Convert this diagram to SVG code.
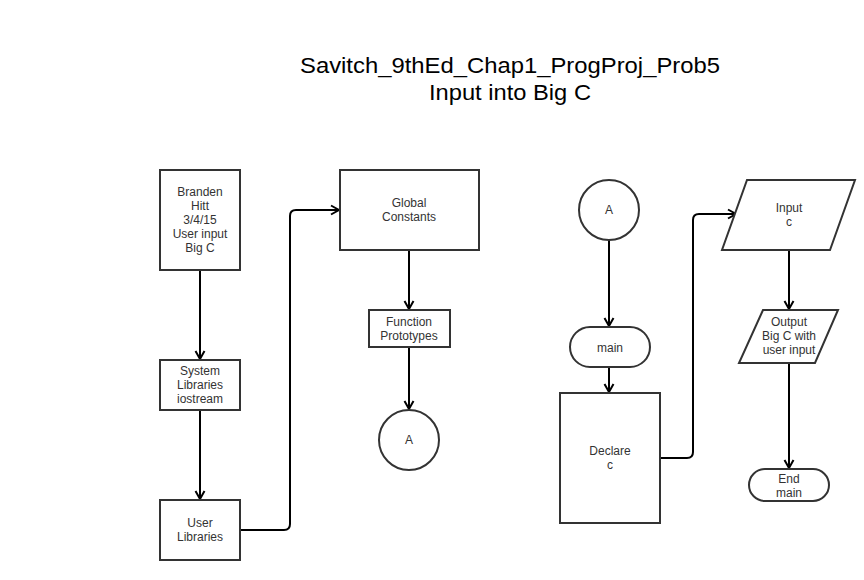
<svg xmlns="http://www.w3.org/2000/svg" width="864" height="580" viewBox="0 0 864 580">
<defs>
<style>
.node{fill:#ffffff;stroke:#333333;stroke-width:2}
.lbl{font-family:"Liberation Sans",Arial,sans-serif;font-size:12px;fill:#333333;text-anchor:middle}
.title{font-family:"Liberation Sans",Arial,sans-serif;font-size:21.5px;fill:#000000;text-anchor:middle}
.edge{fill:none;stroke:#000000;stroke-width:2}
</style>
<marker id="arr" markerUnits="userSpaceOnUse" markerWidth="12" markerHeight="12" viewBox="0 0 12 12" refX="10" refY="6" orient="auto">
<path d="M2,1.5 L10,6 L2,10.5" fill="none" stroke="#000000" stroke-width="2"/>
</marker>
</defs>
<rect width="864" height="580" fill="#ffffff"/>
<g id="title">
<text class="title" x="510" y="73" textLength="420" lengthAdjust="spacingAndGlyphs">Savitch_9thEd_Chap1_ProgProj_Prob5</text>
<text class="title" x="510" y="100" textLength="162" lengthAdjust="spacingAndGlyphs">Input into Big C</text>
</g>
<g id="connectors">
<path class="edge" d="M200,270 L200,359" marker-end="url(#arr)"/>
<path class="edge" d="M200,410 L200,499" marker-end="url(#arr)"/>
<path class="edge" d="M240,530 L284,530 Q290,530 290,524 L290,216 Q290,210 296,210 L339,210" marker-end="url(#arr)"/>
<path class="edge" d="M409,250 L409,309" marker-end="url(#arr)"/>
<path class="edge" d="M409,348 L409,409" marker-end="url(#arr)"/>
<path class="edge" d="M609,240 L609,326" marker-end="url(#arr)"/>
<path class="edge" d="M609,367 L609,392" marker-end="url(#arr)"/>
<path class="edge" d="M660,458 L687,458 Q693,458 693,452 L693,220 Q693,214 699,214 L736,214" marker-end="url(#arr)"/>
<path class="edge" d="M789,250 L789,309" marker-end="url(#arr)"/>
<path class="edge" d="M789,363 L789,468" marker-end="url(#arr)"/>
</g>
<g id="n-branden">
<rect class="node" x="160" y="170" width="80" height="100"/>
<text class="lbl" x="200" y="196">Branden</text>
<text class="lbl" x="200" y="210">Hitt</text>
<text class="lbl" x="200" y="224">3/4/15</text>
<text class="lbl" x="200" y="238">User input</text>
<text class="lbl" x="200" y="252">Big C</text>
</g>
<g id="n-syslib">
<rect class="node" x="160" y="360" width="80" height="50"/>
<text class="lbl" x="200" y="375">System</text>
<text class="lbl" x="200" y="389">Libraries</text>
<text class="lbl" x="200" y="403">iostream</text>
</g>
<g id="n-userlib">
<rect class="node" x="160" y="500" width="80" height="60"/>
<text class="lbl" x="200" y="527">User</text>
<text class="lbl" x="200" y="541">Libraries</text>
</g>
<g id="n-global">
<rect class="node" x="340" y="170" width="139" height="80"/>
<text class="lbl" x="409" y="207">Global</text>
<text class="lbl" x="409" y="221">Constants</text>
</g>
<g id="n-proto">
<rect class="node" x="369" y="310" width="81" height="37"/>
<text class="lbl" x="409" y="326">Function</text>
<text class="lbl" x="409" y="340">Prototypes</text>
</g>
<g id="n-a1">
<circle class="node" cx="409" cy="440" r="30"/>
<text class="lbl" x="409" y="444">A</text>
</g>
<g id="n-a2">
<circle class="node" cx="609" cy="210" r="30"/>
<text class="lbl" x="609" y="214">A</text>
</g>
<g id="n-main">
<rect class="node" x="570" y="327" width="80" height="40" rx="20" ry="20"/>
<text class="lbl" x="610" y="352">main</text>
</g>
<g id="n-declare">
<rect class="node" x="560" y="393" width="100" height="130"/>
<text class="lbl" x="610" y="455">Declare</text>
<text class="lbl" x="610" y="469">c</text>
</g>
<g id="n-input">
<polygon class="node" points="747,180 855,180 830,250 722,250"/>
<text class="lbl" x="789" y="212">Input</text>
<text class="lbl" x="789" y="226">c</text>
</g>
<g id="n-output">
<polygon class="node" points="763,310 838,310 815,363 739,363"/>
<text class="lbl" x="789" y="326">Output</text>
<text class="lbl" x="789" y="340">Big C with</text>
<text class="lbl" x="789" y="354">user input</text>
</g>
<g id="n-end">
<rect class="node" x="749" y="469" width="80" height="32" rx="16" ry="16"/>
<text class="lbl" x="789" y="483">End</text>
<text class="lbl" x="789" y="497">main</text>
</g>
</svg>
